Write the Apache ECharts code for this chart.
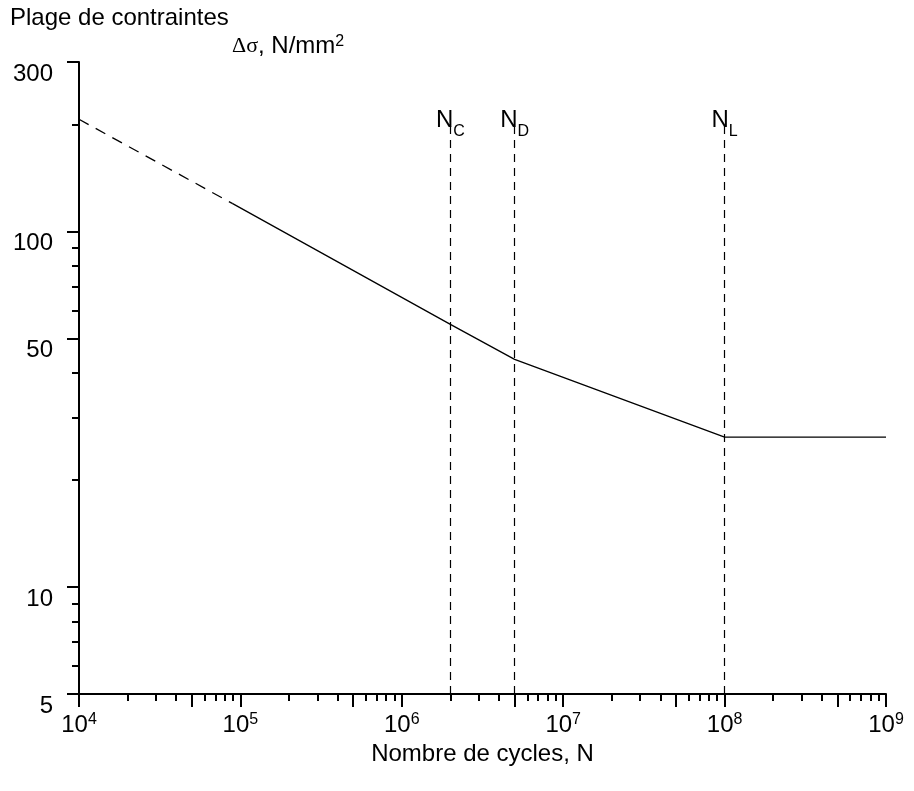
<!DOCTYPE html>
<html><head><meta charset="utf-8">
<script src="https://cdn.jsdelivr.net/npm/echarts@6/dist/echarts.min.js"></script>
<style>html,body{margin:0;padding:0;background:#fff}#c{width:914px;height:791px}</style>
</head><body><div id="c"></div>
<script>
// ---- data ----
const xLabelValues = [1e4, 1e5, 1e6, 1e7, 1e8, 1e9];
const xMajorTicks = [1e4, 5e4, 1e5, 5e5, 1e6, 5e6, 1e7, 5e7, 1e8, 5e8, 1e9];
const xMinorTicks = [2e4, 3e4, 4e4, 6e4, 7e4, 8e4, 9e4,
                     2e5, 3e5, 4e5, 6e5, 7e5, 8e5, 9e5,
                     2e6, 3e6, 4e6, 6e6, 7e6, 8e6, 9e6,
                     2e7, 3e7, 4e7, 6e7, 7e7, 8e7, 9e7,
                     2e8, 3e8, 4e8, 6e8, 7e8, 8e8, 9e8];
const yLabelValues = [5, 10, 50, 100, 300];
const yMajorTicks = [5, 10, 50, 100, 300];
const yMinorTicks = [6, 7, 8, 9, 20, 30, 40, 60, 70, 80, 90, 200];

const dashedN = [1e4, 8.9e4];
const dashedS = [207, 120];
const solidN = [8.9e4, 2e6, 5e6, 1e8, 1e9];
const solidS = [120, 54.8, 43.7, 26.4, 26.4];

const refN = [2e6, 5e6, 1e8];
const refSub = ['C', 'D', 'L'];
const refBottom = 5;
const refTop = 200;

const FONT = "'Liberation Sans', Arial, sans-serif";

const zip = (a, b) => a.map((v, i) => [v, b[i]]);

const chart = echarts.init(document.getElementById('c'), null, {renderer: 'canvas'});

const baseX = {
  type: 'log', logBase: 10, min: 1e4, max: 1e9, gridIndex: 0, position: 'bottom', offset: 0,
  splitLine: {show: false}, minorTick: {show: false}, minorSplitLine: {show: false}
};
const baseY = {
  type: 'log', logBase: 10, min: 5, max: 300, gridIndex: 0, position: 'left', offset: 0,
  splitLine: {show: false}, minorTick: {show: false}, minorSplitLine: {show: false}
};

const option = {
  animation: false,
  backgroundColor: '#fff',
  textStyle: {fontFamily: FONT, color: '#000'},
  title: [
    {text: 'Plage de contraintes', left: 10, top: 6, padding: 0,
     textStyle: {fontFamily: FONT, fontSize: 24, fontWeight: 'normal', color: '#000'}},
    {text: '{g|Δσ}, N/mm{sup|2}', left: 232, top: 34, padding: 0,
     textStyle: {fontFamily: FONT, fontSize: 24, fontWeight: 'normal', color: '#000',
       rich: {
         g: {fontFamily: "'Liberation Serif', serif", fontSize: 22, color: '#000'},
         sup: {fontFamily: FONT, fontSize: 16, verticalAlign: 'top', color: '#000'}
       }}}
  ],
  grid: {left: 79, right: 28, top: 62, bottom: 97, containLabel: false},
  xAxis: [
    Object.assign({}, baseX, {
      name: 'Nombre de cycles, N', nameLocation: 'middle', nameGap: 44,
      nameTextStyle: {fontFamily: FONT, fontSize: 24, color: '#000'},
      axisLine: {show: true, lineStyle: {color: '#000', width: 2}},
      axisTick: {show: true, length: 13, lineStyle: {color: '#000', width: 2}, customValues: xMajorTicks},
      axisLabel: {show: true, margin: 18, customValues: xLabelValues, hideOverlap: false,
        showMinLabel: true, showMaxLabel: true,
        formatter: v => '{b|10}{s|' + Math.round(Math.log10(v)) + '}',
        rich: {
          b: {fontFamily: FONT, fontSize: 24, color: '#000', lineHeight: 26},
          s: {fontFamily: FONT, fontSize: 16, color: '#000', verticalAlign: 'top', lineHeight: 16}
        }}
    }),
    Object.assign({}, baseX, {
      axisLine: {show: false},
      axisTick: {show: true, length: 7, lineStyle: {color: '#000', width: 2}, customValues: xMinorTicks},
      axisLabel: {show: false}
    })
  ],
  yAxis: [
    Object.assign({}, baseY, {
      axisLine: {show: true, lineStyle: {color: '#000', width: 2}},
      axisTick: {show: true, length: 12, lineStyle: {color: '#000', width: 2}, customValues: yMajorTicks},
      axisLabel: {show: true, margin: 26, customValues: yLabelValues, verticalAlign: 'top',
        hideOverlap: false, showMinLabel: true, showMaxLabel: true,
        fontFamily: FONT, fontSize: 24, color: '#000', lineHeight: 24,
        formatter: v => String(v)}
    }),
    Object.assign({}, baseY, {
      axisLine: {show: false},
      axisTick: {show: true, length: 7, lineStyle: {color: '#000', width: 2}, customValues: yMinorTicks},
      axisLabel: {show: false}
    })
  ],
  series: [
    {
      type: 'line', xAxisIndex: 0, yAxisIndex: 0, data: zip(dashedN, dashedS),
      symbol: 'none', silent: true,
      lineStyle: {color: '#000', width: 1.3, type: [11, 8]}
    },
    {
      type: 'line', xAxisIndex: 0, yAxisIndex: 0, data: zip(solidN, solidS),
      symbol: 'none', silent: true,
      lineStyle: {color: '#000', width: 1.3, type: 'solid'},
      markLine: {
        silent: true, symbol: ['none', 'none'], animation: false,
        lineStyle: {color: '#000', width: 1.2, type: [8, 6]},
        label: {
          show: true, position: 'end', distance: -8,
          formatter: p => '{n|N}{s|' + p.name + '}',
          rich: {
            n: {fontFamily: FONT, fontSize: 24, color: '#000', lineHeight: 24},
            s: {fontFamily: FONT, fontSize: 16, color: '#000', padding: [22, 0, 0, 0], lineHeight: 16}
          }
        },
        data: refN.map((n, i) => [
          {coord: [n, refBottom], name: refSub[i]},
          {coord: [n, refTop]}
        ])
      }
    }
  ]
};
chart.setOption(option);
</script>
</body></html>
